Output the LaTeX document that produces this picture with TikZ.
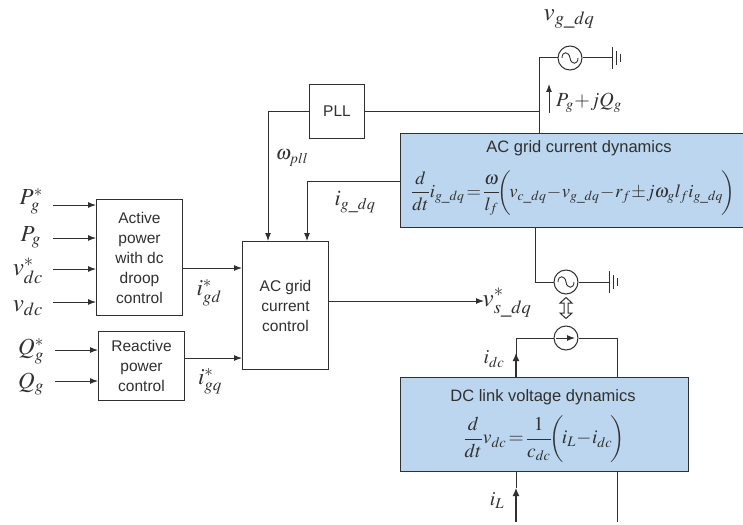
\documentclass[tikz,border=0pt]{standalone}
\usepackage{amsmath}
\usepackage{mathptmx}
\usepackage[no-math]{fontspec}
\setmainfont{Liberation Sans}
\usetikzlibrary{arrows.meta,calc}
\definecolor{ink}{HTML}{303030}
\definecolor{dynblue}{HTML}{BBD6EE}
\tikzset{
  wire/.style={draw=ink,line width=1pt},
  arr/.style={wire,-{Latex[length=8pt,width=6pt]}},
  blockbox/.style={draw=ink,line width=1pt,fill=white,align=center,text=ink,font=\fontsize{15.5}{20}\selectfont,inner sep=0pt,anchor=north west},
  dynbox/.style={blockbox,fill=dynblue},
  srcnode/.style={circle,draw=ink,line width=1pt,minimum size=24pt,inner sep=0pt,fill=white},
  lab/.style={text=ink,inner sep=0pt,font=\fontsize{23}{25}\selectfont},
  eqn/.style={text=ink,inner sep=0pt,font=\fontsize{19.5}{21}\selectfont},
  captext/.style={text=ink,inner sep=0pt,font=\fontsize{16.5}{18}\selectfont},
}
\newcommand{\wavepic}[1]{\draw[ink,line width=0.9pt] ($(#1)+(-8,0)$) .. controls ($(#1)+(-8,-7)$) and ($(#1)+(-1,-7)$) .. ($(#1)+(0,0)$) .. controls ($(#1)+(1,7)$) and ($(#1)+(8,7)$) .. ($(#1)+(8,0)$);}
\newcommand{\gndpic}[1]{\draw[ink,line width=1pt] ($(#1)+(0,-11)$) -- ($(#1)+(0,11)$) ($(#1)+(4,-7)$) -- ($(#1)+(4,7)$) ($(#1)+(8,-4)$) -- ($(#1)+(8,4)$);}
\begin{document}
\begin{tikzpicture}[x=1pt,y=-1pt]
\useasboundingbox (0,0) rectangle (743,524);
% blocks
\node[blockbox,minimum width=86pt,minimum height=116pt] (act) at (96,199) {Active\\power\\with dc\\droop\\control};
\node[blockbox,minimum width=86pt,minimum height=69pt] (rea) at (98,331) {Reactive\\power\\control};
\node[blockbox,minimum width=86pt,minimum height=128pt] (acc) at (242,241) {AC grid\\current\\control};
\node[blockbox,minimum width=55pt,minimum height=54pt] (pll) at (309,84) {PLL};
\node[dynbox,minimum width=343pt,minimum height=94pt] (acd) at (400,133) {};
\node[dynbox,minimum width=288pt,minimum height=94pt] (dcd) at (400,377) {};
% coordinates
\foreach \n/\y in {pa/205,pb/238,pc/269,pd/302} {
  \coordinate (\n s) at (53,\y); \coordinate (\n e) at (act.west |- 0,\y);
  \draw[arr] (\n s) -- (\n e);
}
\foreach \n/\y in {qa/350,qb/381} {
  \coordinate (\n s) at (55,\y); \coordinate (\n e) at (rea.west |- 0,\y);
  \draw[arr] (\n s) -- (\n e);
}
\draw[arr] (act.east |- 0,268) -- (acc.west |- 0,268);
\draw[arr] (rea.east |- 0,358) -- (acc.west |- 0,358);
\coordinate (vsend) at (484,301);
\draw[arr] (acc.east |- vsend) -- (vsend);
% top grid
\node[srcnode] (src1) at (570,58) {};
\coordinate (g1) at (612,58);
\coordinate (c1) at (539,58);
\draw[wire] (acd.north -| c1) -- (c1) -- (src1.west);
\draw[wire] (src1.east) -- (g1);
\gndpic{g1}
\wavepic{src1}
\draw[wire] (pll.east) -- (pll.east -| c1);
\coordinate (pc) at (268,112);
\draw[arr] (pll.west) -- (pll.west -| pc) -- (pc |- acc.north);
\coordinate (ic) at (307,181.5);
\draw[arr] (acd.west |- ic) -- (ic) -- (ic |- acc.north);
\coordinate (pqs) at (549,113);
\coordinate (pqe) at (549,84);
\draw[arr] (pqs) -- (pqe);
% converter
\node[srcnode] (src2) at (566,282) {};
\coordinate (c2) at (535,282);
\coordinate (g2) at (609,282);
\draw[wire] (acd.south -| c2) -- (c2) -- (src2.west);
\draw[wire] (src2.east) -- (g2);
\gndpic{g2}
\wavepic{src2}
\coordinate (dm) at (566,308);
\draw[ink,line width=1pt,fill=white] ($(dm)+(0,-10.5)$) -- ($(dm)+(6,-5)$) -- ($(dm)+(2,-5)$) -- ($(dm)+(2,5)$) -- ($(dm)+(6,5)$) -- ($(dm)+(0,10.5)$) -- ($(dm)+(-6,5)$) -- ($(dm)+(-2,5)$) -- ($(dm)+(-2,-5)$) -- ($(dm)+(-6,-5)$) -- cycle;
% current source
\node[srcnode] (cs) at (566,338) {};
\coordinate (cl) at (516,338);
\coordinate (cr) at (617,338);
\draw[wire] (cs.west) -- (cl) -- (cl |- dcd.north) ;
\draw[wire] (cs.east) -- (cr) -- (cr |- dcd.north);
\coordinate (csa) at (556,338);
\coordinate (csb) at (575,338);
\draw[arr] (csa) -- (csb);
\coordinate (idt) at (516,353);
\coordinate (ilb) at (516,522);
\coordinate (ilt) at (516,488);
\coordinate (rb) at (617,522);
\draw[wire,line width=1.2pt,-{Latex[length=8pt,width=7pt]}] (dcd.north -| idt) -- (idt);
\draw[wire,line width=1.2pt,-{Latex[length=8pt,width=7pt]}] (ilb) -- (ilt);
\draw[wire] (ilt) -- (ilt |- dcd.south);
\draw[wire] (rb) -- (rb |- dcd.south);
% labels
\node[lab,anchor=east] (l1) at (43,201) {$P_g^*$};
\node[lab,anchor=east] (l2) at (41,237) {$P_g$};
\node[lab,anchor=east,font=\fontsize{25}{26}\selectfont] (l3) at (43,271) {$v_{dc}^*$};
\node[lab,anchor=east,font=\fontsize{25}{26}\selectfont] (l4) at (43,308) {$v_{dc}$};
\node[lab,anchor=east] (l5) at (44,351) {$Q_g^*$};
\node[lab,anchor=east] (l6) at (44,384) {$Q_g$};
\node[lab] (l7) at (209,293) {$i_{gd}^*$};
\node[lab] (l8) at (210,381) {$i_{gq}^*$};
\node[lab,font=\fontsize{20}{22}\selectfont] (l9) at (292,158) {$\omega_{pll}$};
\node[lab,font=\fontsize{22}{24}\selectfont] (l10) at (355,202) {$i_{g\_dq}$};
\node[lab,font=\fontsize{25}{26}\selectfont] (l11) at (569,19) {$v_{g\_dq}$};
\node[lab,font=\fontsize{20}{22}\selectfont] (l12) at (589,103) {$P_g\!+\!jQ_g$};
\node[lab,font=\fontsize{25}{26}\selectfont] (l13) at (507,303) {$v_{s\_dq}^*$};
\node[lab,font=\fontsize{20}{22}\selectfont] (l14) at (494,359) {$i_{dc}$};
\node[lab,font=\fontsize{20}{22}\selectfont] (l15) at (497,501) {$i_L$};
% dynamics text
\node[captext] (t1) at (579,148) {AC grid current dynamics};
\node[eqn,anchor=west,font=\fontsize{18.6}{20}\selectfont] (e1) at (411,193) {$\dfrac{d}{dt}i_{g\_dq}\!=\!\dfrac{\omega}{l_f}\!\bigg(\!v_{c\_dq}\!-\!v_{g\_dq}\!-\!r_f\!\pm\! j\omega_g l_f i_{g\_dq}\!\bigg)$};
\node[captext] (t2) at (543,397) {DC link voltage dynamics};
\node[eqn] (e2) at (544,439) {$\dfrac{d}{dt}v_{dc}\!=\!\dfrac{1}{c_{dc}}\!\bigg(\!i_L\!-\!i_{dc}\!\bigg)$};
\end{tikzpicture}
\end{document}
